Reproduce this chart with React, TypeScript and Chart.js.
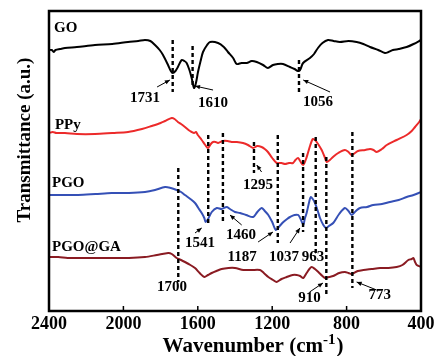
import React, { useEffect, useRef } from 'react';
import { Chart, registerables } from 'chart.js';

Chart.register(...registerables);

// ---- Spectra (wavenumber in cm-1, transmittance in arbitrary offset units) ----
const goWavenumbers = [2400, 2385, 2375, 2365, 2340, 2314, 2250, 2153, 2060, 1975, 1920, 1884, 1855, 1830, 1805, 1787, 1760, 1745, 1735, 1720, 1707, 1687, 1672, 1660, 1645, 1633, 1620, 1610, 1599, 1585, 1572, 1550, 1534, 1491, 1460, 1438, 1410, 1391, 1365, 1337, 1310, 1283, 1249, 1223, 1196, 1170, 1142, 1104, 1080, 1061, 1050, 1034, 997, 975, 954, 930, 900, 870, 836, 790, 746, 710, 674, 630, 594, 575, 551, 520, 477, 440, 400];
const goValues = [261, 261, 259, 261, 262, 263, 264, 266, 267, 269, 270, 271, 270, 266, 261, 256, 246, 240, 238, 240, 244, 251, 250, 248, 241, 233, 223, 228, 239, 250, 259, 266, 269, 268, 264, 259, 253, 247, 248, 248, 250, 249, 246, 243, 246, 247, 247, 244, 242, 240, 241, 248, 253, 257, 263, 268, 271, 270, 269, 270, 269, 267, 264, 261, 258, 259, 261, 262, 264, 267, 271];

const ppyWavenumbers = [2400, 2380, 2360, 2314, 2250, 2153, 2060, 1975, 1900, 1848, 1800, 1776, 1740, 1725, 1707, 1690, 1669, 1650, 1633, 1620, 1610, 1600, 1579, 1560, 1545, 1530, 1518, 1505, 1491, 1465, 1440, 1418, 1390, 1357, 1330, 1303, 1280, 1257, 1240, 1223, 1200, 1176, 1150, 1131, 1110, 1088, 1075, 1061, 1050, 1034, 1020, 1008, 995, 982, 970, 961, 950, 934, 920, 907, 890, 873, 845, 809, 790, 773, 755, 739, 700, 674, 655, 638, 610, 584, 531, 477, 450, 432, 410, 400];
const ppyValues = [178, 179, 178, 178, 177, 177, 178, 179, 182, 185, 188, 190, 193, 192, 189, 187, 184, 181, 179, 178, 179, 176, 171, 166, 163, 167, 169, 169, 168, 170, 170, 169, 169, 168, 166, 163, 165, 164, 162, 159, 153, 148, 148, 147, 148, 148, 151, 153, 150, 146, 151, 158, 166, 172, 171, 169, 166, 161, 155, 149, 151, 154, 158, 161, 159, 156, 158, 160, 161, 162, 161, 159, 162, 166, 171, 176, 180, 184, 189, 192];

const pgoWavenumbers = [2400, 2350, 2300, 2244, 2150, 2063, 1970, 1884, 1830, 1776, 1745, 1714, 1690, 1669, 1640, 1615, 1597, 1579, 1565, 1558, 1545, 1525, 1498, 1472, 1445, 1427, 1400, 1373, 1340, 1302, 1280, 1257, 1240, 1221, 1200, 1180, 1160, 1140, 1120, 1104, 1080, 1060, 1045, 1033, 1025, 1015, 1000, 993, 982, 970, 955, 943, 925, 911, 895, 872, 840, 809, 790, 773, 750, 728, 690, 657, 610, 567, 520, 477, 440, 400];
const pgoValues = [116, 116, 116, 116, 117, 118, 118, 119, 121, 124, 123, 121, 119, 116, 112, 108, 103, 98, 93, 89, 92, 99, 103, 102, 104, 102, 99, 98, 96, 94, 99, 103, 100, 96, 89, 81, 85, 89, 92, 94, 96, 96, 91, 86, 92, 98, 110, 114, 112, 108, 100, 93, 86, 83, 85, 88, 97, 103, 100, 96, 100, 103, 104, 106, 107, 109, 111, 114, 116, 119];

const pgoGaWavenumbers = [2400, 2350, 2300, 2244, 2150, 2063, 1970, 1884, 1820, 1759, 1740, 1714, 1690, 1669, 1640, 1615, 1590, 1565, 1545, 1525, 1500, 1472, 1435, 1400, 1355, 1310, 1266, 1245, 1221, 1195, 1176, 1150, 1122, 1090, 1068, 1050, 1033, 1015, 1000, 988, 970, 952, 930, 916, 895, 872, 840, 809, 790, 773, 740, 710, 665, 620, 575, 531, 500, 468, 450, 441, 432, 423, 400];
const pgoGaValues = [54, 54, 53, 53, 53, 53, 53, 54, 56, 58, 57, 53, 51, 49, 46, 43, 38, 34, 36, 38, 40, 42, 43, 43, 41, 41, 41, 38, 34, 31, 29, 32, 34, 36, 36, 35, 33, 38, 42, 44, 42, 39, 35, 33, 34, 35, 38, 39, 38, 37, 40, 41, 42, 43, 43, 44, 46, 51, 52, 53, 49, 46, 44];

const seriesNames = ['GO', 'PPy', 'PGO', 'PGO@GA'];
const seriesColors = ['#000000', '#ec2a2a', '#3550b6', '#8a1b22'];
const seriesLabelX = [2373, 2368, 2384, 2384];
const seriesLabelY = [283, 186, 128, 64];

// ---- Peak markers ----
const dashWavenumbers = [1735, 1628, 1056, 1544, 1465, 1298, 1170, 1034, 966, 909, 769, 1705];
const dashTops = [271, 265, 251, 176, 178, 169, 176, 158, 174, 154, 179, 143];
const dashBottoms = [219, 223, 218, 88, 89, 138, 68, 79, 56, 14, 23, 29];

const peakTexts = ['1731', '1610', '1056', '1295', '1541', '1460', '1187', '1037', '963', '910', '773', '1700'];
const peakLabelX = [1884, 1518, 954, 1276, 1588, 1368, 1362, 1137, 981, 999, 622, 1739];
const peakLabelY = [213, 208, 209, 126, 68, 76, 54, 54, 54, 13, 16, 24];

const arrowTailX = [1819, 1518, 889, 1257, 1615, 1364, 1276, 1104, 999, 638];
const arrowTailY = [224, 221, 219, 139, 78, 86, 69, 68, 19, 21];
const arrowHeadX = [1750, 1615, 1033, 1283, 1579, 1427, 1196, 1051, 927, 746];
const arrowHeadY = [231, 225, 231, 146, 83, 96, 79, 83, 28, 29];

const xTicks = [2400, 2000, 1600, 1200, 800, 400];

const FONT = '"Liberation Serif", "Times New Roman", serif';

function pts(xs: number[], ys: number[]) {
  return xs.map((x, i) => ({ x, y: ys[i] }));
}

const decorPlugin = {
  id: 'decor',
  afterDatasetsDraw(chart: any) {
    const { ctx, chartArea: a, scales } = chart;
    const x = scales.x;
    const y = scales.y;
    ctx.save();
    // frame
    ctx.strokeStyle = '#000';
    ctx.lineWidth = 2.5;
    ctx.strokeRect(a.left, a.top, a.right - a.left, a.bottom - a.top);
    // inward ticks
    ctx.lineWidth = 1.5;
    xTicks.forEach((t) => {
      const px = x.getPixelForValue(t);
      ctx.beginPath();
      ctx.moveTo(px, a.bottom);
      ctx.lineTo(px, a.bottom - 5);
      ctx.stroke();
    });
    // series names
    ctx.fillStyle = '#000';
    ctx.font = `bold 15px ${FONT}`;
    ctx.textBaseline = 'middle';
    ctx.textAlign = 'left';
    seriesNames.forEach((n, i) => {
      ctx.fillText(n, x.getPixelForValue(seriesLabelX[i]), y.getPixelForValue(seriesLabelY[i]));
    });
    // peak labels
    ctx.textAlign = 'center';
    peakTexts.forEach((t, i) => {
      ctx.fillText(t, x.getPixelForValue(peakLabelX[i]), y.getPixelForValue(peakLabelY[i]));
    });
    // arrows
    ctx.lineWidth = 1;
    arrowTailX.forEach((_, i) => {
      const x0 = x.getPixelForValue(arrowTailX[i]);
      const y0 = y.getPixelForValue(arrowTailY[i]);
      const x1 = x.getPixelForValue(arrowHeadX[i]);
      const y1 = y.getPixelForValue(arrowHeadY[i]);
      ctx.beginPath();
      ctx.moveTo(x0, y0);
      ctx.lineTo(x1, y1);
      ctx.stroke();
      const ang = Math.atan2(y1 - y0, x1 - x0);
      const L = 5;
      const W = 2.2;
      ctx.beginPath();
      ctx.moveTo(x1, y1);
      ctx.lineTo(x1 - L * Math.cos(ang) + W * Math.sin(ang), y1 - L * Math.sin(ang) - W * Math.cos(ang));
      ctx.lineTo(x1 - L * Math.cos(ang) - W * Math.sin(ang), y1 - L * Math.sin(ang) + W * Math.cos(ang));
      ctx.closePath();
      ctx.fill();
    });
    // y title
    ctx.save();
    ctx.translate(30, 140);
    ctx.rotate(-Math.PI / 2);
    ctx.textAlign = 'center';
    ctx.textBaseline = 'alphabetic';
    ctx.font = `bold 19px ${FONT}`;
    ctx.fillText('Transmittance (a.u.)', 0, 0);
    ctx.restore();
    // x title with superscript
    const mainFont = `bold 21px ${FONT}`;
    const supFont = `bold 15px ${FONT}`;
    ctx.textAlign = 'left';
    ctx.textBaseline = 'alphabetic';
    ctx.font = mainFont;
    const w1 = ctx.measureText('Wavenumber (cm').width;
    const w3 = ctx.measureText(')').width;
    ctx.font = supFont;
    const w2 = ctx.measureText('-1').width;
    const total = w1 + w2 + w3 + 1;
    let cx = 253 - total / 2;
    const base = 352;
    ctx.font = mainFont;
    ctx.fillText('Wavenumber (cm', cx, base);
    cx += w1;
    ctx.font = supFont;
    ctx.fillText('-1', cx, base - 8);
    cx += w2 + 1;
    ctx.font = mainFont;
    ctx.fillText(')', cx, base);
    ctx.restore();
  },
};

export default function App() {
  const ref = useRef<HTMLCanvasElement | null>(null);
  useEffect(() => {
    if (!ref.current) return;
    const curves = [
      [goWavenumbers, goValues],
      [ppyWavenumbers, ppyValues],
      [pgoWavenumbers, pgoValues],
      [pgoGaWavenumbers, pgoGaValues],
    ].map(([xs, ys], i) => ({
      label: seriesNames[i],
      data: pts(xs, ys),
      borderColor: seriesColors[i],
      borderWidth: 2,
      pointRadius: 0,
      tension: 0.3,
      fill: false,
      order: 1,
    }));
    const dashes = dashWavenumbers.map((w, i) => ({
      label: 'dash' + i,
      data: [
        { x: w, y: dashTops[i] },
        { x: w, y: dashBottoms[i] },
      ],
      borderColor: '#000',
      borderWidth: 2.4,
      borderDash: [4, 3],
      pointRadius: 0,
      tension: 0,
      fill: false,
      order: 0,
    }));
    const chart = new Chart(ref.current, {
      type: 'line',
      data: { datasets: [...dashes, ...curves] as any },
      options: {
        animation: false,
        responsive: false,
        events: [],
        layout: { padding: { left: 49, right: 17, top: 11, bottom: 0 } },
        plugins: { legend: { display: false }, tooltip: { enabled: false } },
        scales: {
          x: {
            type: 'linear',
            reverse: true,
            min: 400,
            max: 2400,
            grid: { display: false, drawTicks: false },
            border: { display: false },
            afterFit: (s: any) => {
              s.height = 45;
            },
            afterBuildTicks: (s: any) => {
              s.ticks = xTicks.map((v) => ({ value: v }));
            },
            ticks: {
              color: '#000',
              padding: 3,
              maxRotation: 0,
              callback: (v: any) => String(v),
              font: { family: FONT, size: 18, weight: 'bold' },
            },
          },
          y: {
            type: 'linear',
            min: 0,
            max: 300,
            display: false,
          },
        },
      },
      plugins: [decorPlugin],
    });
    return () => chart.destroy();
  }, []);
  return (
    <div style={{ position: 'absolute', left: 0, top: 0, width: 438, height: 356, background: '#fff' }}>
      <canvas ref={ref} width={438} height={356} style={{ display: 'block' }} />
    </div>
  );
}
